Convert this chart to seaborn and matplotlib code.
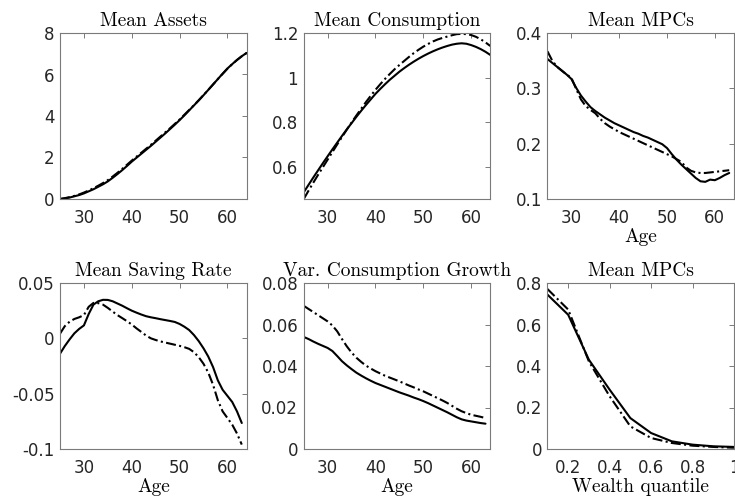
import matplotlib
matplotlib.use("Agg")
import matplotlib.pyplot as plt
from matplotlib.ticker import FuncFormatter
import pandas as pd
import seaborn as sns

# Ages: stock variables run to 64, flow variables to 63
ages_long = list(range(25, 65))
ages = list(range(25, 64))
wealth_quantiles = [0.1, 0.2, 0.3, 0.4, 0.5, 0.6, 0.7, 0.8, 0.9, 1.0]

assets_base = [0.00, 0.03, 0.07, 0.13, 0.19, 0.27, 0.37, 0.47, 0.59, 0.71,
               0.85, 1.02, 1.20, 1.39, 1.59, 1.80, 1.99, 2.18, 2.37, 2.56,
               2.76, 2.96, 3.16, 3.37, 3.58, 3.80, 4.03, 4.27, 4.51, 4.75,
               5.00, 5.26, 5.52, 5.78, 6.04, 6.29, 6.50, 6.70, 6.88, 7.04]
assets_alt = [0.00, 0.04, 0.09, 0.15, 0.22, 0.31, 0.41, 0.52, 0.64, 0.77,
              0.91, 1.08, 1.26, 1.45, 1.65, 1.85, 2.04, 2.23, 2.42, 2.61,
              2.81, 3.01, 3.21, 3.41, 3.62, 3.83, 4.06, 4.29, 4.52, 4.76,
              5.01, 5.26, 5.52, 5.78, 6.03, 6.28, 6.50, 6.70, 6.88, 7.03]

cons_base = [0.488, 0.521, 0.554, 0.586, 0.618, 0.649, 0.680, 0.710, 0.740, 0.769,
             0.797, 0.825, 0.852, 0.878, 0.903, 0.928, 0.950, 0.971, 0.991, 1.009,
             1.027, 1.043, 1.058, 1.072, 1.085, 1.097, 1.108, 1.118, 1.127, 1.135,
             1.142, 1.148, 1.152, 1.154, 1.152, 1.146, 1.138, 1.128, 1.116, 1.102]
cons_alt = [0.458, 0.495, 0.531, 0.566, 0.600, 0.634, 0.668, 0.702, 0.735, 0.768,
            0.800, 0.831, 0.861, 0.891, 0.919, 0.946, 0.971, 0.995, 1.017, 1.038,
            1.057, 1.075, 1.093, 1.110, 1.125, 1.139, 1.151, 1.162, 1.171, 1.178,
            1.184, 1.190, 1.195, 1.196, 1.195, 1.191, 1.183, 1.172, 1.158, 1.142]

mpc_base = [0.353, 0.346, 0.339, 0.332, 0.325, 0.317, 0.301, 0.287, 0.276, 0.266,
            0.259, 0.253, 0.247, 0.242, 0.237, 0.233, 0.229, 0.225, 0.221, 0.218,
            0.214, 0.211, 0.207, 0.203, 0.199, 0.192, 0.181, 0.171, 0.162, 0.154,
            0.146, 0.138, 0.132, 0.131, 0.135, 0.134, 0.138, 0.143, 0.147]
mpc_alt = [0.367, 0.350, 0.339, 0.332, 0.325, 0.319, 0.299, 0.280, 0.268, 0.261,
           0.255, 0.245, 0.237, 0.231, 0.226, 0.221, 0.217, 0.213, 0.209, 0.205,
           0.201, 0.197, 0.193, 0.189, 0.185, 0.181, 0.177, 0.172, 0.167, 0.157,
           0.151, 0.148, 0.147, 0.147, 0.148, 0.149, 0.150, 0.151, 0.152]

saving_base = [-0.0139, -0.0070, -0.0010, 0.0045, 0.0085, 0.0117, 0.0220, 0.0305,
               0.0335, 0.0348, 0.0347, 0.0335, 0.0315, 0.0295, 0.0272, 0.0250,
               0.0232, 0.0215, 0.0200, 0.0190, 0.0182, 0.0173, 0.0165, 0.0157,
               0.0148, 0.0130, 0.0105, 0.0075, 0.0030, -0.0025, -0.0090, -0.0165,
               -0.0260, -0.0380, -0.0465, -0.0520, -0.0575, -0.0660, -0.0765]
saving_alt = [0.0042, 0.0110, 0.0150, 0.0175, 0.0190, 0.0210, 0.0285, 0.0320,
              0.0318, 0.0304, 0.0275, 0.0242, 0.0210, 0.0183, 0.0155, 0.0125,
              0.0090, 0.0058, 0.0025, 0.0000, -0.0015, -0.0028, -0.0038, -0.0048,
              -0.0058, -0.0068, -0.0080, -0.0095, -0.0125, -0.0170, -0.0230, -0.0310,
              -0.0420, -0.0560, -0.0660, -0.0720, -0.0780, -0.0860, -0.0960]

varcg_base = [0.0540, 0.0530, 0.0518, 0.0507, 0.0497, 0.0487, 0.0472, 0.0448,
              0.0423, 0.0403, 0.0385, 0.0368, 0.0354, 0.0341, 0.0329, 0.0318,
              0.0309, 0.0300, 0.0291, 0.0282, 0.0273, 0.0265, 0.0257, 0.0248,
              0.0240, 0.0231, 0.0221, 0.0210, 0.0199, 0.0188, 0.0177, 0.0165,
              0.0153, 0.0143, 0.0137, 0.0133, 0.0129, 0.0125, 0.0122]
varcg_alt = [0.0690, 0.0675, 0.0660, 0.0645, 0.0630, 0.0615, 0.0595, 0.0567,
             0.0530, 0.0495, 0.0465, 0.0440, 0.0420, 0.0402, 0.0388, 0.0375,
             0.0364, 0.0353, 0.0344, 0.0335, 0.0326, 0.0316, 0.0306, 0.0297,
             0.0287, 0.0278, 0.0267, 0.0256, 0.0245, 0.0234, 0.0222, 0.0208,
             0.0194, 0.0182, 0.0173, 0.0165, 0.0160, 0.0155, 0.0149]

mpcq_base = [0.744, 0.647, 0.430, 0.286, 0.149, 0.077, 0.037, 0.021, 0.013, 0.010]
mpcq_alt = [0.771, 0.672, 0.422, 0.254, 0.109, 0.053, 0.029, 0.016, 0.010, 0.006]

titles = ["Mean Assets", "Mean Consumption", "Mean MPCs",
          "Mean Saving Rate", "Var. Consumption Growth", "Mean MPCs"]
age_ticks = [30, 40, 50, 60]
quantile_ticks = [0.2, 0.4, 0.6, 0.8, 1.0]
yticks_list = [[0, 2, 4, 6, 8], [0.6, 0.8, 1.0, 1.2], [0.1, 0.2, 0.3, 0.4],
               [-0.1, -0.05, 0, 0.05], [0, 0.02, 0.04, 0.06, 0.08], [0, 0.2, 0.4, 0.6, 0.8]]
ylims = [(0, 8), (0.458, 1.2), (0.1, 0.4), (-0.1, 0.05), (0, 0.08), (0, 0.8)]

sns.set_theme(style="white")
plt.rcParams["font.family"] = ["DejaVu Sans"]
plt.rcParams["axes.unicode_minus"] = False

SPINE_COLOR = "#7a7a7a"
LABEL_COLOR = "#262626"
SERIF = "cmr10"

fig, axes = plt.subplots(2, 3, figsize=(7.35, 5.04), dpi=100)
fig.subplots_adjust(left=60 / 735, right=734 / 735, bottom=1 - 449 / 504,
                    top=1 - 33 / 504, wspace=57 / 186, hspace=84 / 166)

panels = [
    (ages_long, assets_base, assets_alt, age_ticks, (25, 64), None),
    (ages_long, cons_base, cons_alt, age_ticks, (25, 64), None),
    (ages, mpc_base, mpc_alt, age_ticks, (25, 64), "Age"),
    (ages, saving_base, saving_alt, age_ticks, (25, 64), "Age"),
    (ages, varcg_base, varcg_alt, age_ticks, (25, 64), "Age"),
    (wealth_quantiles, mpcq_base, mpcq_alt, quantile_ticks, (0.1, 1.0), "Wealth quantile"),
]

fmt = FuncFormatter(lambda v, _: f"{v:g}")

for i, (ax, (x, base, alt, xt, xl, xlab)) in enumerate(zip(axes.flat, panels)):
    df = pd.DataFrame({
        "x": list(x) * 2,
        "y": list(base) + list(alt),
        "model": ["base"] * len(x) + ["alt"] * len(x),
    })
    sns.lineplot(data=df, x="x", y="y", style="model",
                 dashes={"base": "", "alt": (4.8, 1.6, 1.0, 1.6)},
                 color="black", linewidth=1.5, legend=False,
                 estimator=None, ax=ax)
    ax.set_xlim(*xl)
    ax.set_ylim(*ylims[i])
    ax.set_xticks(xt)
    ax.set_yticks(yticks_list[i])
    ax.xaxis.set_major_formatter(fmt)
    ax.yaxis.set_major_formatter(fmt)
    ax.set_ylabel("")
    ax.set_xlabel(xlab if xlab else "", fontfamily=SERIF, fontsize=14,
                  labelpad=1, color="black")
    ax.set_title(titles[i], fontfamily=SERIF, fontsize=14, pad=5, color="black")
    ax.tick_params(direction="in", top=True, right=True, length=3.5, width=0.7,
                   color=SPINE_COLOR, labelcolor=LABEL_COLOR, labelsize=12)
    ax.tick_params(axis="x", pad=7)
    ax.tick_params(axis="y", pad=4)
    for sp in ax.spines.values():
        sp.set_color(SPINE_COLOR)
        sp.set_linewidth(0.8)
        sp.set_visible(True)

fig.savefig("out.png", dpi=100)
